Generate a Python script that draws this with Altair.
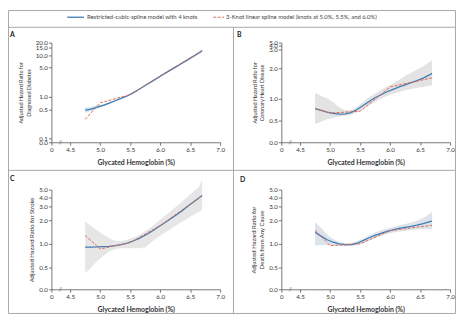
import altair as alt
import pandas as pd

# ---------------- data ----------------
XS = [4.75, 4.85, 4.95, 5.05, 5.15, 5.25, 5.35, 5.45, 5.55, 5.65, 5.75,
      5.85, 5.95, 6.05, 6.15, 6.25, 6.35, 6.45, 6.55, 6.65, 6.7]
KNOTS = [4.75, 5.0, 5.5, 6.0, 6.7]

A_FIT = [0.48, 0.51, 0.57, 0.63, 0.71, 0.81, 0.92, 1.05, 1.25, 1.53, 1.87,
         2.29, 2.8, 3.43, 4.2, 5.1, 6.25, 7.6, 9.3, 11.4, 12.7]
A_LO = [0.42, 0.46, 0.52, 0.59, 0.67, 0.78, 0.89, 1.02, 1.21, 1.48, 1.81,
        2.21, 2.7, 3.3, 4.03, 4.88, 5.95, 7.2, 8.75, 10.6, 11.7]
A_HI = [0.56, 0.57, 0.62, 0.67, 0.75, 0.84, 0.95, 1.08, 1.29, 1.58, 1.93,
        2.37, 2.9, 3.56, 4.38, 5.33, 6.55, 8.0, 9.9, 12.3, 13.8]
A_LIN = [0.29, 0.72, 1.13, 3.2, 12.8]

B_FIT = [0.77, 0.73, 0.69, 0.66, 0.645, 0.65, 0.68, 0.75, 0.84, 0.93, 1.02,
         1.12, 1.22, 1.30, 1.38, 1.45, 1.52, 1.59, 1.67, 1.77, 1.83]
B_LO = [0.42, 0.47, 0.53, 0.565, 0.59, 0.61, 0.63, 0.68, 0.76, 0.84, 0.92,
        1.0, 1.08, 1.15, 1.21, 1.27, 1.31, 1.35, 1.38, 1.42, 1.43]
B_HI = [1.19, 1.08, 1.0, 0.92, 0.8, 0.73, 0.74, 0.81, 0.92, 1.04, 1.16,
        1.28, 1.39, 1.5, 1.62, 1.74, 1.85, 1.96, 2.1, 2.32, 2.45]
B_LIN = [0.77, 0.67, 0.71, 1.38, 1.68]

C_FIT = [0.91, 0.91, 0.913, 0.92, 0.93, 0.95, 0.98, 1.02, 1.09, 1.18, 1.29,
         1.43, 1.61, 1.82, 2.05, 2.31, 2.62, 3.0, 3.44, 3.93, 4.2]
C_LO = [0.42, 0.5, 0.6, 0.7, 0.8, 0.86, 0.88, 0.88, 0.88, 0.88, 0.9,
        1.05, 1.2, 1.35, 1.5, 1.7, 1.9, 2.1, 2.35, 2.6, 2.75]
C_HI = [1.94, 1.7, 1.5, 1.32, 1.18, 1.1, 1.09, 1.13, 1.2, 1.3, 1.45,
        1.65, 1.9, 2.2, 2.55, 2.95, 3.45, 4.0, 4.7, 5.5, 6.8]
C_LIN = [1.28, 0.86, 1.04, 1.72, 4.2]

D_FIT = [1.41, 1.26, 1.13, 1.05, 1.0, 0.98, 0.98, 1.02, 1.1, 1.2, 1.29,
         1.37, 1.45, 1.52, 1.58, 1.63, 1.68, 1.74, 1.82, 1.92, 1.97]
D_LO = [0.95, 0.96, 0.97, 0.96, 0.94, 0.93, 0.93, 0.96, 1.03, 1.11, 1.19,
        1.27, 1.34, 1.4, 1.44, 1.48, 1.51, 1.53, 1.55, 1.56, 1.57]
D_HI = [1.92, 1.6, 1.32, 1.16, 1.06, 1.03, 1.03, 1.08, 1.17, 1.29, 1.4,
        1.5, 1.58, 1.65, 1.72, 1.8, 1.88, 1.98, 2.15, 2.4, 2.6]
D_LIN = [1.5, 0.95, 1.0, 1.48, 1.74]

X_TICKS = [0, 4.5, 5.0, 5.5, 6.0, 6.5, 7.0]
A_TICKS = [0.082, 0.1, 0.5, 1.0, 5.0, 10.0, 15.0, 20.0]
B_TICKS = [0.0, 0.5, 1.0, 2.0, 3.0, 4.0, 5.0]
CD_TICKS = [0.26, 0.5, 1.0, 2.0, 3.0, 4.0, 5.0]

LEGEND_FIT = "Restricted-cubic-spline model with 4 knots"
LEGEND_LIN = "3-Knot linear spline model (knots at 5.0%, 5.5%, and 6.0%)"
X_TITLE = "Glycated Hemoglobin (%)"

# ---------------- styling ----------------
W, H = 171, 101
BLUE = "#3f7cb4"
RED = "#dc6a58"
FRAME = "#a8a8a8"
FONT = "Lato"
ONE = pd.DataFrame({"k": [0]})


def axis(values, expr, title, tsize, bold=False, tpad=4):
    return alt.Axis(values=values, labelExpr=expr, title=title, grid=False,
                    tickSize=3, labelPadding=1, labelFontSize=6.3,
                    labelFont=FONT, titleFont=FONT, titleFontSize=tsize,
                    titleFontWeight="bold" if bold else "normal",
                    titleColor="#333", labelColor="#333",
                    domainColor="#555", tickColor="#555",
                    domainWidth=0.8, tickWidth=0.8,
                    labelOverlap=False, labelFlush=False, titlePadding=tpad)


def panel(fit, lo, hi, lin, yscale, yticks, yexpr, ytitle, tsize, band_color,
          extra=None):
    curve = pd.DataFrame({"x": XS, "fit": fit, "lo": lo, "hi": hi})
    knot = pd.DataFrame({"x": KNOTS, "lin": lin})
    xscale = alt.Scale(domain=[0, 4.5, 7.0], range=[0, 19, W], nice=False,
                       zero=False)
    xax = axis(X_TICKS, "datum.value == 0 ? '0' : format(datum.value, '.1f')",
               X_TITLE, 7, bold=True, tpad=6)
    yax = axis(yticks, yexpr, ytitle, tsize)

    def X(f="x:Q"):
        return alt.X(f, scale=xscale, axis=xax)

    def Y(f):
        return alt.Y(f, scale=yscale, axis=yax)

    band = alt.Chart(curve).mark_area(color=band_color, opacity=1).encode(
        x=X(), y=Y("lo:Q"), y2="hi:Q")
    line_fit = alt.Chart(curve).mark_line(color=BLUE, strokeWidth=1.3).encode(
        x=X(), y=Y("fit:Q"))
    line_lin = alt.Chart(knot).mark_line(color=RED, strokeWidth=1,
                                          strokeDash=[3, 1.5]).encode(
        x=X(), y=Y("lin:Q"))
    brk = alt.Chart(ONE).mark_text(text="//", fontSize=5, color="#666",
                                   font=FONT).encode(
        x=alt.value(9), y=alt.value(H - 0.5))
    layers = [band, line_fit, line_lin, brk]
    if extra:
        layers += extra
    return alt.layer(*layers).properties(width=W, height=H)


def hrule(x1, x2, y, color=FRAME, dash=None, width=1):
    kw = {"color": color, "strokeWidth": width}
    if dash:
        kw["strokeDash"] = dash
    return alt.Chart(ONE).mark_rule(**kw).encode(
        x=alt.value(x1), x2=alt.value(x2), y=alt.value(y))


def vrule(x, y1, y2, color=FRAME):
    return alt.Chart(ONE).mark_rule(color=color, strokeWidth=1).encode(
        x=alt.value(x), y=alt.value(y1), y2=alt.value(y2))


def label(txt, x, y, size=6, bold=False, color="#333"):
    return alt.Chart(ONE).mark_text(
        text=txt, fontSize=size, font=FONT, align="left", baseline="middle",
        fontWeight="bold" if bold else "normal", color=color).encode(
        x=alt.value(x), y=alt.value(y))


# decorations drawn relative to panel A's plot area
L, R, T, B = -43.5, 409.5, -32.5, 274.5
deco = [
    hrule(L, R, T), hrule(L, R, B), vrule(L, T, B), vrule(R, T, B),
    hrule(L, R, -15.5), vrule(184.5, -15.5, B), hrule(L, R, 129.5),
    hrule(16, 33, -25.7, color=BLUE, width=1.3),
    label(LEGEND_FIT, 36, -25.5, color="#444"),
    hrule(164, 175, -25.7, color=RED, dash=[3, 1.5]),
    label(LEGEND_LIN, 177, -25.5, color="#444"),
    label("A", -42, -8, size=7, bold=True, color="#222"),
    label("B", 188, -8, size=7, bold=True, color="#222"),
    label("C", -42, 138, size=7, bold=True, color="#222"),
    label("D", 191, 139, size=7, bold=True, color="#222"),
]

scale_a = alt.Scale(type="log", domain=[0.082, 20], nice=False)
scale_b = alt.Scale(domain=[0, 0.5, 1, 2, 3, 4, 5],
                    range=[H, 79, 56.5, 26, 7.3, 3, 0], nice=False, zero=False)
scale_cd = alt.Scale(type="log", domain=[0.26, 5], nice=False)

expr_a = "datum.value < 0.09 ? '0.0' : format(datum.value, '.1f')"
expr_b = "format(datum.value, '.1f')"
expr_cd = "datum.value < 0.3 ? '0.0' : format(datum.value, '.1f')"

pa = panel(A_FIT, A_LO, A_HI, A_LIN, scale_a, A_TICKS, expr_a,
           ["Adjusted Hazard Ratio for", "Diagnosed Diabetes"], 5.5,
           "#d3e3f1", extra=deco)
pb = panel(B_FIT, B_LO, B_HI, B_LIN, scale_b, B_TICKS, expr_b,
           ["Adjusted Hazard Ratio for", "Coronary Heart Disease"], 5.5,
           "#e3e3e3")
pc = panel(C_FIT, C_LO, C_HI, C_LIN, scale_cd, CD_TICKS, expr_cd,
           "Adjusted Hazard Ratio for Stroke", 6, "#e6e6e6")
pd_ = panel(D_FIT, D_LO, D_HI, D_LIN, scale_cd, CD_TICKS, expr_cd,
            ["Adjusted Hazard Ratio for", "Death from Any Cause"], 6,
            "#dde3ea")

chart = alt.concat(pa, pb, pc, pd_, columns=2,
                   spacing={"row": 48, "column": 62}, bounds="flush").properties(
    padding=0, background="white"
).configure_view(stroke=None)

chart.save("out.html", embed_options={"renderer": "svg", "actions": False})
